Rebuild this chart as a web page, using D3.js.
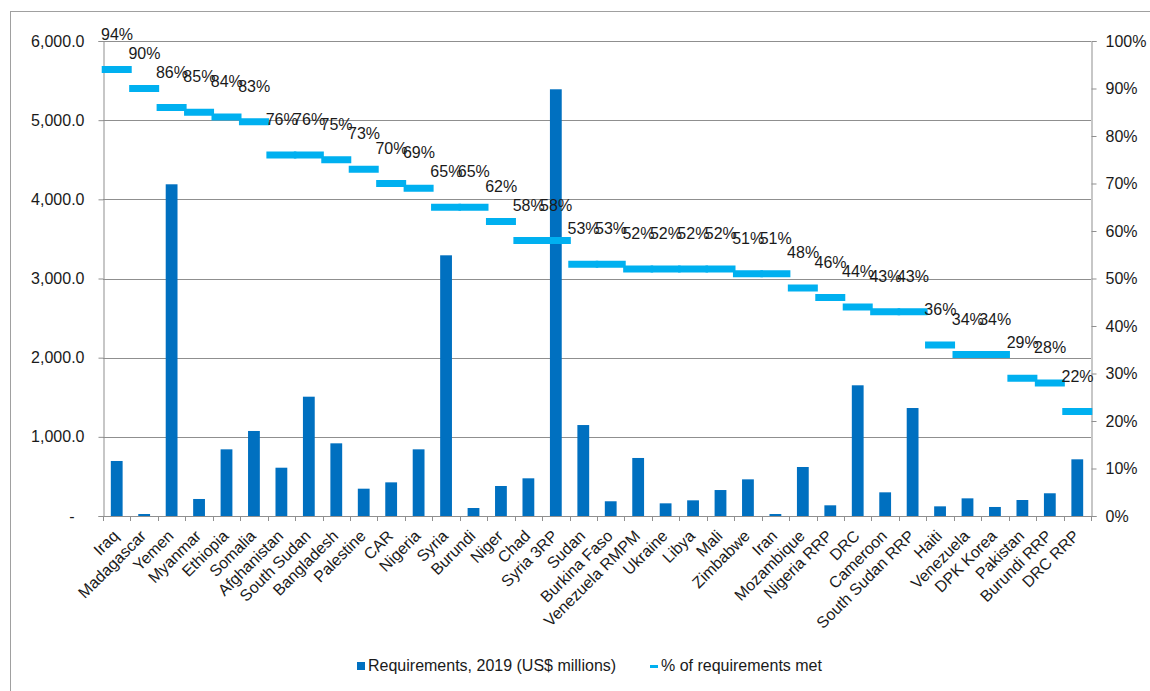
<!DOCTYPE html>
<html>
<head>
<meta charset="utf-8">
<script src="https://cdn.jsdelivr.net/npm/d3@7"></script>
<style>
  body { margin: 0; background: #fff; }
  svg text { font-family: "Liberation Sans", Arial, sans-serif; fill: #1a1a1a; }
</style>
</head>
<body>
<div id="graph"></div>
<script>
// appeals, ordered by share of requirements met
const appeals = ["Iraq", "Madagascar", "Yemen", "Myanmar", "Ethiopia", "Somalia", "Afghanistan",
  "South Sudan", "Bangladesh", "Palestine", "CAR", "Nigeria", "Syria", "Burundi", "Niger", "Chad",
  "Syria 3RP", "Sudan", "Burkina Faso", "Venezuela RMPM", "Ukraine", "Libya", "Mali", "Zimbabwe",
  "Iran", "Mozambique", "Nigeria RRP", "DRC", "Cameroon", "South Sudan RRP", "Haiti", "Venezuela",
  "DPK Korea", "Pakistan", "Burundi RRP", "DRC RRP"];

// requirements 2019, US$ millions
const requirements = [695, 25, 4190, 215, 842, 1074, 610, 1507, 918, 345, 425, 842, 3293, 101,
  379, 476, 5390, 1149, 186, 733, 160, 198, 328, 463, 25, 619, 135, 1651, 299, 1364, 122, 223,
  114, 202, 287, 716];

// % of requirements met
const pctMet = [94, 90, 86, 85, 84, 83, 76, 76, 75, 73, 70, 69, 65, 65, 62, 58, 58, 53, 53, 52,
  52, 52, 52, 51, 51, 48, 46, 44, 43, 43, 36, 34, 34, 29, 28, 22];

const leftTicks = [0, 1000, 2000, 3000, 4000, 5000, 6000];
const rightTicks = [0, 10, 20, 30, 40, 50, 60, 70, 80, 90, 100];

const width = 1150, height = 691;
const plot = { left: 103, right: 1091, top: 41, bottom: 516 };
const fontSize = 16;
const barColor = "#0070c0";
const dashColor = "#00b0f0";
const gridColor = "#8f8f8f";

const svg = d3.select("#graph").append("svg")
  .attr("width", width)
  .attr("height", height);

// outer chart border
svg.append("rect")
  .attr("x", 10.5).attr("y", 11.5)
  .attr("width", 1160).attr("height", 700)
  .attr("fill", "none").attr("stroke", "#a0a0a0");

const x = d3.scaleBand()
  .domain(appeals)
  .range([plot.left, plot.right]);

const y = d3.scaleLinear()
  .domain([0, 6000])
  .range([plot.bottom, plot.top]);

const yR = d3.scaleLinear()
  .domain([0, 100])
  .range([plot.bottom, plot.top]);

// gridlines
svg.append("g")
  .selectAll("line")
  .data(leftTicks.filter(d => d > 0))
  .enter().append("line")
  .attr("x1", plot.left).attr("x2", plot.right)
  .attr("y1", d => Math.round(y(d)) + 0.5)
  .attr("y2", d => Math.round(y(d)) + 0.5)
  .attr("stroke", gridColor);

// left axis
const gLeft = svg.append("g")
  .attr("transform", "translate(" + (plot.left + 0.5) + ",0)")
  .call(d3.axisLeft(y)
    .tickValues(leftTicks)
    .tickSize(5)
    .tickPadding(14)
    .tickFormat(d => d === 0 ? "-" : d3.format(",.1f")(d)));
gLeft.selectAll("text").attr("font-size", fontSize).attr("font-family", null);
gLeft.selectAll("text").filter(d => d === 0).attr("dx", -10);
gLeft.selectAll("line, path").attr("stroke", gridColor);

// right axis
const gRight = svg.append("g")
  .attr("transform", "translate(" + (plot.right + 0.5) + ",0)")
  .call(d3.axisRight(yR)
    .tickValues(rightTicks)
    .tickSize(5)
    .tickPadding(9)
    .tickFormat(d => d + "%"));
gRight.selectAll("text").attr("font-size", fontSize).attr("font-family", null);
gRight.selectAll("line, path").attr("stroke", gridColor);

// bars
const barW = x.bandwidth() * 0.43;
svg.append("g")
  .selectAll("rect")
  .data(requirements)
  .enter().append("rect")
  .attr("x", (d, i) => x(appeals[i]) + x.bandwidth() / 2 - barW / 2)
  .attr("y", d => y(d))
  .attr("width", barW)
  .attr("height", d => y(0) - y(d))
  .attr("fill", barColor);

// bottom axis line with ticks between categories
const gBottom = svg.append("g");
gBottom.append("line")
  .attr("x1", plot.left).attr("x2", plot.right)
  .attr("y1", plot.bottom + 0.5).attr("y2", plot.bottom + 0.5)
  .attr("stroke", gridColor);
gBottom.selectAll(".tick")
  .data(appeals.concat([null]))
  .enter().append("line")
  .attr("x1", (d, i) => Math.round(plot.left + i * x.step()) + 0.5)
  .attr("x2", (d, i) => Math.round(plot.left + i * x.step()) + 0.5)
  .attr("y1", plot.bottom)
  .attr("y2", plot.bottom + 5)
  .attr("stroke", gridColor);

// category labels
const gCat = svg.append("g")
  .attr("transform", "translate(0," + plot.bottom + ")")
  .call(d3.axisBottom(x).tickSize(0).tickPadding(0));
gCat.select(".domain").remove();
gCat.selectAll("text")
  .attr("font-size", fontSize)
  .attr("font-family", null)
  .attr("text-anchor", "end")
  .attr("dy", "0.35em")
  .attr("transform", "translate(-1,17) rotate(-45)");

// % met dashes
svg.append("g")
  .selectAll("rect")
  .data(pctMet)
  .enter().append("rect")
  .attr("x", (d, i) => x(appeals[i]) + x.bandwidth() / 2 - 15)
  .attr("y", d => yR(d) - 3.5)
  .attr("width", 30)
  .attr("height", 7)
  .attr("fill", dashColor);

// % labels
svg.append("g")
  .selectAll("text")
  .data(pctMet)
  .enter().append("text")
  .attr("x", (d, i) => x(appeals[i]) - 2)
  .attr("y", d => yR(d) - 30)
  .attr("font-size", fontSize)
  .text(d => d + "%");

// legend
const legend = svg.append("g");
legend.append("rect")
  .attr("x", 357).attr("y", 662)
  .attr("width", 8).attr("height", 8)
  .attr("fill", barColor);
legend.append("text")
  .attr("x", 368).attr("y", 671)
  .attr("font-size", fontSize)
  .text("Requirements, 2019 (US$ millions)");
legend.append("rect")
  .attr("x", 650).attr("y", 665)
  .attr("width", 8).attr("height", 3)
  .attr("fill", dashColor);
legend.append("text")
  .attr("x", 661).attr("y", 671)
  .attr("font-size", fontSize)
  .text("% of requirements met");
</script>
</body>
</html>
